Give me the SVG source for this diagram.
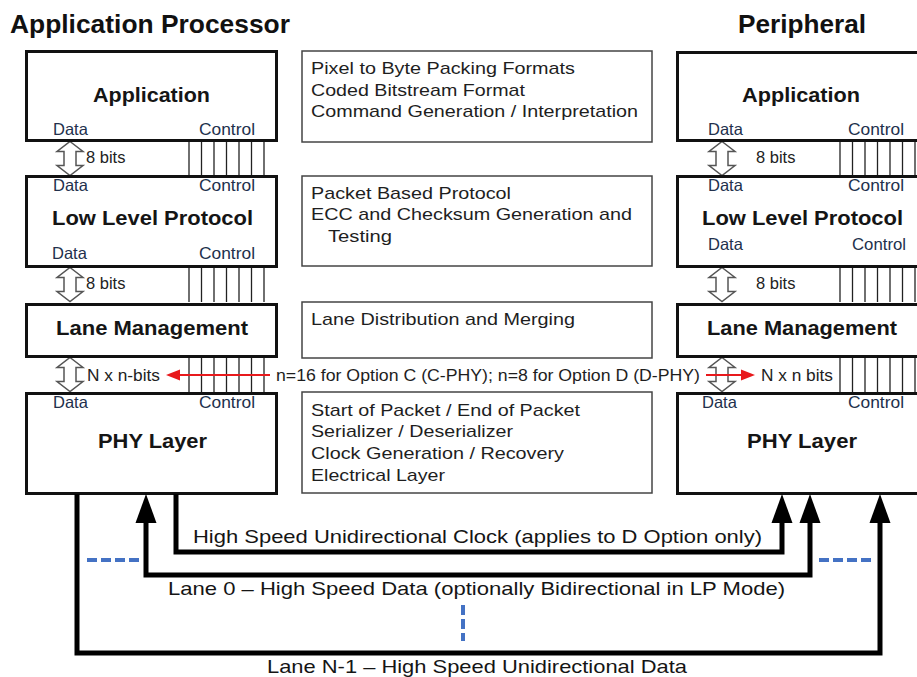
<svg xmlns="http://www.w3.org/2000/svg" width="917" height="677" viewBox="0 0 917 677">
  <defs>
    <style>
      .title { font-family: "Liberation Sans", Arial, sans-serif; font-weight: bold; font-size: 25px; fill: #111; }
      .blk { fill: #fff; stroke: #111; stroke-width: 3; }
      .info { fill: #fff; stroke: #444; stroke-width: 1.5; }
      .lbl { font-family: "Liberation Sans", Arial, sans-serif; font-weight: bold; font-size: 20px; fill: #151515; }
      .sm { font-family: "Liberation Sans", Arial, sans-serif; font-size: 16.5px; fill: #22304c; }
      .bits { font-family: "Liberation Sans", Arial, sans-serif; font-size: 16.5px; fill: #222; }
      .txt { font-family: "Liberation Sans", Arial, sans-serif; font-size: 17px; fill: #1e1e1e; }
      .lane { font-family: "Liberation Sans", Arial, sans-serif; font-size: 18.5px; fill: #151515; }
      .ctl { stroke: #222; stroke-width: 1.3; }
      .bus { fill: #fff; stroke: #555; stroke-width: 1.5; stroke-linejoin: miter; }
      .wire { fill: none; stroke: #000; stroke-width: 5; stroke-linejoin: miter; }
      .head { fill: #000; }
      .red { stroke: #e8191c; stroke-width: 2; fill: none; }
      .redhead { fill: #e8191c; }
      .dash { fill: none; stroke: #4472c4; stroke-width: 4; stroke-dasharray: 10 4; }
    </style>
    <!-- double-headed hollow data bus arrow, 34 px tall, centred on x=0 -->
    <polygon id="busArrow" class="bus" points="0,0 13,10 6,10 6,24 13,24 0,34 -13,24 -6,24 -6,10 -13,10"/>
    <!-- group of seven control lines, 34 px tall -->
    <g id="ctl7" class="ctl">
      <line x1="0" y1="0" x2="0" y2="36"/>
      <line x1="12.5" y1="0" x2="12.5" y2="36"/>
      <line x1="25" y1="0" x2="25" y2="36"/>
      <line x1="37.5" y1="0" x2="37.5" y2="36"/>
      <line x1="50" y1="0" x2="50" y2="36"/>
      <line x1="62.5" y1="0" x2="62.5" y2="36"/>
      <line x1="75" y1="0" x2="75" y2="36"/>
    </g>
  </defs>

  <rect width="917" height="677" fill="#fff"/>

  <!-- column headings -->
  <text class="title" x="10" y="33" textLength="280" lengthAdjust="spacingAndGlyphs">Application Processor</text>
  <text class="title" x="738" y="33" textLength="128" lengthAdjust="spacingAndGlyphs">Peripheral</text>

  <!-- buses between layers (drawn first so boxes cover ends) -->
  <g id="buses">
    <use href="#ctl7" x="189" y="140"/>
    <use href="#ctl7" x="189" y="266"/>
    <use href="#ctl7" x="189" y="356"/>
    <use href="#ctl7" x="840" y="140"/>
    <use href="#ctl7" x="840" y="266"/>
    <use href="#ctl7" x="840" y="356"/>
    <use href="#busArrow" x="70" y="141.5"/>
    <use href="#busArrow" x="70" y="267.5"/>
    <use href="#busArrow" x="70" y="357.5"/>
    <use href="#busArrow" x="722" y="141.5"/>
    <use href="#busArrow" x="722" y="267.5"/>
    <use href="#busArrow" x="722" y="357.5"/>
    <text class="bits" x="86" y="163">8 bits</text>
    <text class="bits" x="86" y="289">8 bits</text>
    <text class="bits" x="756" y="163">8 bits</text>
    <text class="bits" x="756" y="289">8 bits</text>
    <text class="bits" x="87" y="381" textLength="73" lengthAdjust="spacingAndGlyphs">N x n-bits</text>
    <text class="bits" x="761" y="381" textLength="72" lengthAdjust="spacingAndGlyphs">N x n bits</text>
  </g>

  <!-- Application Processor stack -->
  <g id="ap-application">
    <rect class="blk" x="26.5" y="51.5" width="250" height="89"/>
    <text class="lbl" x="93" y="102" textLength="117" lengthAdjust="spacingAndGlyphs">Application</text>
    <text class="sm" x="53" y="135">Data</text>
    <text class="sm" x="199" y="135" textLength="56" lengthAdjust="spacingAndGlyphs">Control</text>
  </g>
  <g id="ap-llp">
    <rect class="blk" x="26.5" y="176.5" width="250" height="90"/>
    <text class="sm" x="53" y="191">Data</text>
    <text class="sm" x="199" y="191" textLength="56" lengthAdjust="spacingAndGlyphs">Control</text>
    <text class="lbl" x="52" y="225" textLength="201" lengthAdjust="spacingAndGlyphs">Low Level Protocol</text>
    <text class="sm" x="52" y="259">Data</text>
    <text class="sm" x="199" y="259" textLength="56" lengthAdjust="spacingAndGlyphs">Control</text>
  </g>
  <g id="ap-lane-mgmt">
    <rect class="blk" x="26.5" y="304.5" width="250" height="52"/>
    <text class="lbl" x="56" y="335" textLength="192" lengthAdjust="spacingAndGlyphs">Lane Management</text>
  </g>
  <g id="ap-phy">
    <rect class="blk" x="26.5" y="393.5" width="250" height="100"/>
    <text class="sm" x="53" y="408">Data</text>
    <text class="sm" x="199" y="408" textLength="56" lengthAdjust="spacingAndGlyphs">Control</text>
    <text class="lbl" x="98" y="448" textLength="109" lengthAdjust="spacingAndGlyphs">PHY Layer</text>
  </g>

  <!-- Peripheral stack (right edge runs off the page) -->
  <g id="per-application">
    <rect class="blk" x="677.5" y="52.5" width="260" height="88"/>
    <text class="lbl" x="742" y="102" textLength="118" lengthAdjust="spacingAndGlyphs">Application</text>
    <text class="sm" x="708" y="135">Data</text>
    <text class="sm" x="848" y="135" textLength="56" lengthAdjust="spacingAndGlyphs">Control</text>
  </g>
  <g id="per-llp">
    <rect class="blk" x="677.5" y="176.5" width="260" height="90"/>
    <text class="sm" x="708" y="191">Data</text>
    <text class="sm" x="848" y="191" textLength="56" lengthAdjust="spacingAndGlyphs">Control</text>
    <text class="lbl" x="702" y="225" textLength="201" lengthAdjust="spacingAndGlyphs">Low Level Protocol</text>
    <text class="sm" x="708" y="250">Data</text>
    <text class="sm" x="852" y="250" textLength="54" lengthAdjust="spacingAndGlyphs">Control</text>
  </g>
  <g id="per-lane-mgmt">
    <rect class="blk" x="677.5" y="304.5" width="260" height="52"/>
    <text class="lbl" x="707" y="335" textLength="190" lengthAdjust="spacingAndGlyphs">Lane Management</text>
  </g>
  <g id="per-phy">
    <rect class="blk" x="677.5" y="393.5" width="260" height="100"/>
    <text class="sm" x="702" y="408">Data</text>
    <text class="sm" x="848" y="408" textLength="56" lengthAdjust="spacingAndGlyphs">Control</text>
    <text class="lbl" x="747" y="448" textLength="110" lengthAdjust="spacingAndGlyphs">PHY Layer</text>
  </g>

  <!-- layer descriptions -->
  <g id="desc-application">
    <rect class="info" x="302" y="51" width="350" height="91"/>
    <text class="txt" x="311" y="74" textLength="264" lengthAdjust="spacingAndGlyphs">Pixel to Byte Packing Formats</text>
    <text class="txt" x="311" y="96" textLength="214" lengthAdjust="spacingAndGlyphs">Coded Bitstream Format</text>
    <text class="txt" x="311" y="117" textLength="327" lengthAdjust="spacingAndGlyphs">Command Generation / Interpretation</text>
  </g>
  <g id="desc-llp">
    <rect class="info" x="302" y="176" width="350" height="90"/>
    <text class="txt" x="311" y="199" textLength="200" lengthAdjust="spacingAndGlyphs">Packet Based Protocol</text>
    <text class="txt" x="311" y="220" textLength="321" lengthAdjust="spacingAndGlyphs">ECC and Checksum Generation and</text>
    <text class="txt" x="328" y="242" textLength="64" lengthAdjust="spacingAndGlyphs">Testing</text>
  </g>
  <g id="desc-lane-mgmt">
    <rect class="info" x="302" y="302" width="350" height="56"/>
    <text class="txt" x="311" y="325" textLength="264" lengthAdjust="spacingAndGlyphs">Lane Distribution and Merging</text>
  </g>
  <g id="desc-phy">
    <rect class="info" x="302" y="392" width="350" height="101"/>
    <text class="txt" x="311" y="416" textLength="269" lengthAdjust="spacingAndGlyphs">Start of Packet / End of Packet</text>
    <text class="txt" x="311" y="437" textLength="202" lengthAdjust="spacingAndGlyphs">Serializer / Deserializer</text>
    <text class="txt" x="311" y="459" textLength="253" lengthAdjust="spacingAndGlyphs">Clock Generation / Recovery</text>
    <text class="txt" x="311" y="481" textLength="134" lengthAdjust="spacingAndGlyphs">Electrical Layer</text>
  </g>

  <!-- lane width note with red pointers -->
  <g id="width-note">
    <line class="red" x1="178" y1="375" x2="270" y2="375"/>
    <polygon class="redhead" points="166,375 180,369.5 180,380.5"/>
    <line class="red" x1="706" y1="375" x2="742" y2="375"/>
    <polygon class="redhead" points="755,375 741,369.5 741,380.5"/>
    <text class="txt" x="276" y="381" textLength="424" lengthAdjust="spacingAndGlyphs">n=16 for Option C (C-PHY); n=8 for Option D (D-PHY)</text>
  </g>

  <!-- PHY lanes -->
  <g id="connectors">
    <path class="wire" d="M176 494 V552 H782 V520"/>
    <polygon class="head" points="782,494 771.5,523 792.5,523"/>
    <path class="wire" d="M146 520 V575 H810 V520"/>
    <polygon class="head" points="146,494 135.5,523 156.5,523"/>
    <polygon class="head" points="810,494 799.5,523 820.5,523"/>
    <path class="wire" d="M77 494 V653 H880 V520"/>
    <polygon class="head" points="880,494 869.5,523 890.5,523"/>
    <path class="dash" d="M87 560 H141"/>
    <path class="dash" d="M819 560 H875"/>
    <path class="dash" d="M463 605 V641"/>
    <text class="lane" x="193" y="543" textLength="569" lengthAdjust="spacingAndGlyphs">High Speed Unidirectional Clock (applies to D Option only)</text>
    <text class="lane" x="168" y="595" textLength="617" lengthAdjust="spacingAndGlyphs">Lane 0 – High Speed Data (optionally Bidirectional in LP Mode)</text>
    <text class="lane" x="267" y="673" textLength="420" lengthAdjust="spacingAndGlyphs">Lane N-1 – High Speed Unidirectional Data</text>
  </g>
</svg>
